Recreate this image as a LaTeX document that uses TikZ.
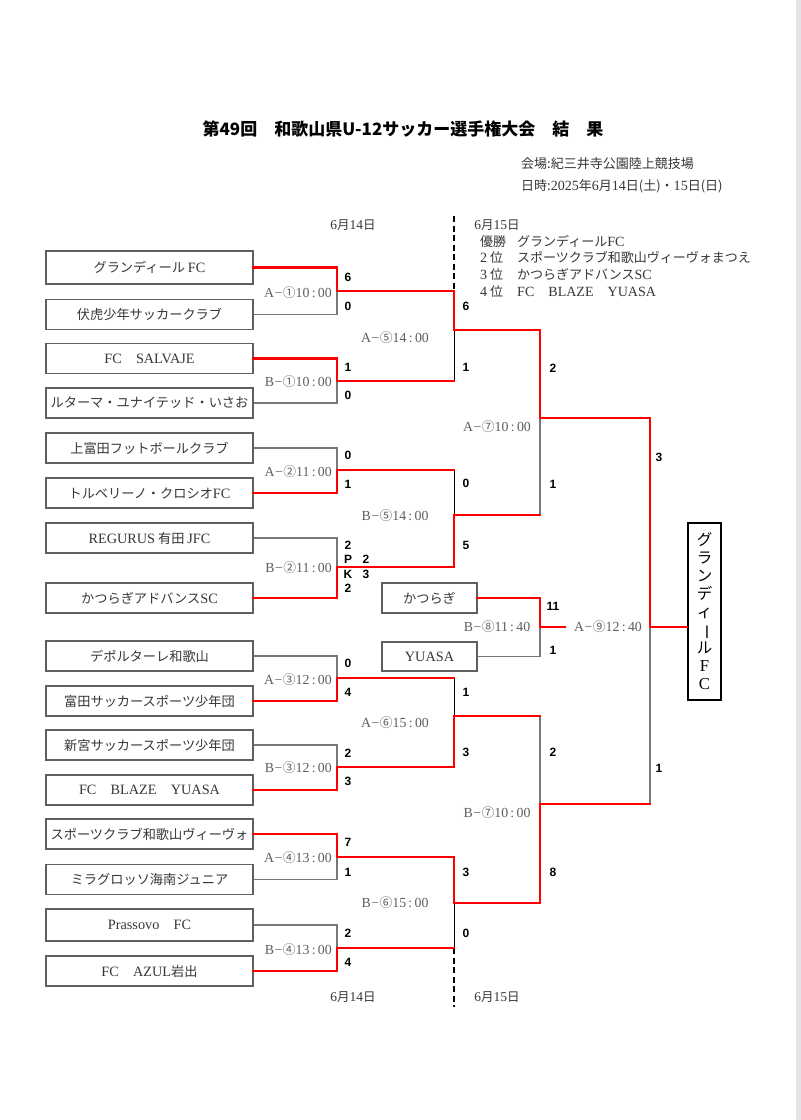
\documentclass[tikz,border=0pt]{standalone}
\usepackage{fontspec}
\usepackage{graphicx}
\setmainfont{Noto Sans CJK JP}
\newfontfamily\lat[Scale=1.08]{Liberation Serif}
\newfontfamily\scr{Liberation Sans}
\definecolor{boxgray}{RGB}{95,95,95}
\definecolor{linegray}{RGB}{120,120,120}
\definecolor{txtgray}{RGB}{55,55,55}
\definecolor{lblgray}{RGB}{95,95,95}
\definecolor{edgegray}{RGB}{226,226,232}
\newcommand\matchlbl[3]{{\lat #1\kern0.5pt −\kern0.5pt}#2{\lat #3}}
\tikzset{
  team/.style={draw=boxgray, line width=1.3, minimum width=207, minimum height=30, inner sep=0, text=txtgray, font=\fontsize{13.2}{15}\selectfont},
  small/.style={team, minimum width=95},
  win/.style={red, line width=2.6, line cap=rect},
  lose/.style={linegray, line width=1.3},
  blk/.style={black, line width=1},
  score/.style={inner sep=0, font=\scr\bfseries\fontsize{12}{14}\selectfont},
  mlbl/.style={inner sep=0, text=lblgray, font=\fontsize{12.8}{14}\selectfont},
  datel/.style={inner sep=0, text=txtgray, font=\fontsize{12.5}{14}\selectfont},
}
\begin{document}
\begin{tikzpicture}[x=1pt,y=-1pt]
\useasboundingbox (0,0) rectangle (801,1120);
\fill[white] (0,0) rectangle (801,1120);
\fill[edgegray] (796,0) rectangle (801,1120);

% title and header
\node[inner sep=0, font=\bfseries\fontsize{17}{20}\selectfont] (title) at (403,129) {第49回　和歌山県U-12サッカー選手権大会　結　果};
\node[inner sep=0, anchor=west, text=txtgray, font=\fontsize{13}{15}\selectfont] (venue) at (521,164) {会場:紀三井寺公園陸上競技場};
\node[inner sep=0, anchor=west, text=txtgray, font=\fontsize{13}{15}\selectfont] (when) at (521,186) {日時:{\lat 2025}年{\lat 6}月{\lat 14}日(土)・{\lat 15}日(日)};

% dates
\node[datel] (d1) at (353,225) {{\lat 6}月{\lat 14}日};
\node[datel] (d2) at (497,225) {{\lat 6}月{\lat 15}日};
\node[datel] (d3) at (353,997) {{\lat 6}月{\lat 14}日};
\node[datel] (d4) at (497,997) {{\lat 6}月{\lat 15}日};

% ranking
\node[inner sep=0, anchor=west, text=txtgray, font=\fontsize{13}{16.7}\selectfont] (rank) at (480,268)
{\renewcommand\arraystretch{1}\begin{tabular}{@{}l@{\hspace{11pt}}l@{}}
優勝 & グランディール{\lat FC}\\
{\lat 2} 位 & スポーツクラブ和歌山ヴィーヴォまつえ\\
{\lat 3} 位 & かつらぎアドバンス{\lat SC}\\
{\lat 4} 位 & {\lat FC\quad BLAZE\quad YUASA}
\end{tabular}};

% teams
\node[team, minimum height=33] (t1) at (149.5,267.5) {グランディール {\lat FC}};
\node[team] (t2) at (149.5,314.5) {伏虎少年サッカークラブ};
\node[team] (t3) at (149.5,358.5) {{\lat FC\quad SALVAJE}};
\node[team] (t4) at (149.5,403) {ルターマ・ユナイテッド・いさお};
\node[team] (t5) at (149.5,448) {上富田フットボールクラブ};
\node[team] (t6) at (149.5,493) {トルベリーノ・クロシオ{\lat FC}};
\node[team] (t7) at (149.5,538) {{\lat REGURUS} 有田 {\lat JFC}};
\node[team] (t8) at (149.5,598) {かつらぎアドバンス{\lat SC}};
\node[team] (t9) at (149.5,656) {デポルターレ和歌山};
\node[team] (t10) at (149.5,701) {富田サッカースポーツ少年団};
\node[team] (t11) at (149.5,745) {新宮サッカースポーツ少年団};
\node[team] (t12) at (149.5,790) {{\lat FC\quad BLAZE\quad YUASA}};
\node[team] (t13) at (149.5,834) {スポーツクラブ和歌山ヴィーヴォ};
\node[team] (t14) at (149.5,879.5) {ミラグロッソ海南ジュニア};
\node[team, minimum height=32] (t15) at (149.5,925) {{\lat Prassovo\quad FC}};
\node[team] (t16) at (149.5,971) {{\lat FC\quad AZUL}岩出};
\node[small] (ka) at (429.5,598) {かつらぎ};
\node[small, minimum height=29] (yu) at (429.5,656.5) {{\lat YUASA}};

% champion box
\node[draw=black, line width=2, minimum width=33, minimum height=177, inner sep=0, font=\fontsize{15.5}{18}\selectfont, align=center] (fin) at (704.5,611.5)
{グ\\ラ\\ン\\デ\\ィ\\\rotatebox[origin=c]{-90}{ー}\\ル\\{\lat F}\\{\lat C}};

% junction coordinates
\coordinate (j1) at (337,291);
\coordinate (j2) at (337,381);
\coordinate (j3) at (337,470);
\coordinate (j4) at (337,567);
\coordinate (j5) at (337,678);
\coordinate (j6) at (337,767);
\coordinate (j7) at (337,857);
\coordinate (j8) at (337,948);
\coordinate (k1) at (454,330);
\coordinate (k2) at (454,515);
\coordinate (k3) at (454,716);
\coordinate (k4) at (454,903);
\coordinate (l1) at (540,418);
\coordinate (l2) at (540,804);
\coordinate (l3) at (540,627);
\coordinate (a9) at (565,627);
\coordinate (f) at (650,627);
\coordinate (fb) at (650,804);
\coordinate (dtop) at (454,216);
\coordinate (dbot) at (454,1007);

% losing lines
\draw[lose] (t2.east) -| (j1);
\draw[lose] (t4.east) -| (j2);
\draw[lose] (t5.east) -| (j3);
\draw[lose] (t7.east) -| (j4);
\draw[lose] (t9.east) -| (j5);
\draw[lose] (t11.east) -| (j6);
\draw[lose] (t14.east) -| (j7);
\draw[lose] (t15.east) -| (j8);
\draw[lose] (yu.east) -| (l3);
\draw[lose] (k2 -| l1) -- (l1);
\draw[lose] (k3 -| l2) -- (l2);
\draw[lose] (f) -- (fb);
\draw[blk] (j2 -| k1) -- (k1);
\draw[blk] (j3 -| k2) -- (k2);
\draw[blk] (j5 -| k3) -- (k3);
\draw[blk] (j8 -| k4) -- (k4);

% date divider
\draw[black, line width=1.8, dash pattern=on 6 off 3.5] (dtop) -- (j1 -| k1);
\draw[black, line width=1.8, dash pattern=on 6 off 3.5] (j8 -| k4) -- (dbot);

% winning lines
\draw[win] (t1.east) -| (j1);
\draw[win] (j1) -| (k1);
\draw[win] (t3.east) -| (j2);
\draw[win] (j2) -- (j2 -| k1);
\draw[win] (k1) -| (l1);
\draw[win] (t6.east) -| (j3);
\draw[win] (j3) -- (j3 -| k2);
\draw[win] (t8.east) -| (j4);
\draw[win] (j4) -| (k2);
\draw[win] (k2) -- (k2 -| l1);
\draw[win] (l1) -| (f);
\draw[win] (f) -- (f -| fin.west);
\draw[win] (ka.east) -| (l3);
\draw[win] (l3) -- (a9);
\draw[win] (t10.east) -| (j5);
\draw[win] (j5) -- (j5 -| k3);
\draw[win] (t12.east) -| (j6);
\draw[win] (j6) -| (k3);
\draw[win] (k3) -- (k3 -| l2);
\draw[win] (t13.east) -| (j7);
\draw[win] (j7) -| (k4);
\draw[win] (t16.east) -| (j8);
\draw[win] (j8) -- (j8 -| k4);
\draw[win] (k4) -| (l2);
\draw[win] (l2) -- (fb);

% match labels
\node[mlbl, anchor=east] (m1) at (332,293) {\matchlbl{A}{①}{10\,:\,00}};
\node[mlbl, anchor=east] (m2) at (332,382) {\matchlbl{B}{①}{10\,:\,00}};
\node[mlbl, anchor=east] (m3) at (332,472) {\matchlbl{A}{②}{11\,:\,00}};
\node[mlbl, anchor=east] (m4) at (332,568) {\matchlbl{B}{②}{11\,:\,00}};
\node[mlbl, anchor=east] (m5) at (332,680) {\matchlbl{A}{③}{12\,:\,00}};
\node[mlbl, anchor=east] (m6) at (332,768) {\matchlbl{B}{③}{12\,:\,00}};
\node[mlbl, anchor=east] (m7) at (332,858) {\matchlbl{A}{④}{13\,:\,00}};
\node[mlbl, anchor=east] (m8) at (332,950) {\matchlbl{B}{④}{13\,:\,00}};
\node[mlbl] (n1) at (395,338) {\matchlbl{A}{⑤}{14\,:\,00}};
\node[mlbl] (n2) at (395,516) {\matchlbl{B}{⑤}{14\,:\,00}};
\node[mlbl] (n3) at (395,723) {\matchlbl{A}{⑥}{15\,:\,00}};
\node[mlbl] (n4) at (395,903) {\matchlbl{B}{⑥}{15\,:\,00}};
\node[mlbl] (p1) at (497,427) {\matchlbl{A}{⑦}{10\,:\,00}};
\node[mlbl] (p2) at (497,627) {\matchlbl{B}{⑧}{11\,:\,40}};
\node[mlbl] (p3) at (497,813) {\matchlbl{B}{⑦}{10\,:\,00}};
\node[mlbl] (q1) at (608,627) {\matchlbl{A}{⑨}{12\,:\,40}};

% scores round 1
\node[score] (s1) at (348,277) {6};
\node[score] (s2) at (348,306) {0};
\node[score] (s3) at (348,367) {1};
\node[score] (s4) at (348,395) {0};
\node[score] (s5) at (348,455) {0};
\node[score] (s6) at (348,484) {1};
\node[score] (s7) at (348,545) {2};
\node[score] (s7p) at (348,559) {P};
\node[score] (s7k) at (348,574) {K};
\node[score] (s8) at (348,588) {2};
\node[score] (pk1) at (366,559) {2};
\node[score] (pk2) at (366,574) {3};
\node[score] (s9) at (348,663) {0};
\node[score] (s10) at (348,692) {4};
\node[score] (s11) at (348,753) {2};
\node[score] (s12) at (348,781) {3};
\node[score] (s13) at (348,842) {7};
\node[score] (s14) at (348,872) {1};
\node[score] (s15) at (348,933) {2};
\node[score] (s16) at (348,962) {4};
% round 2
\node[score] (u1) at (466,306) {6};
\node[score] (u2) at (466,367) {1};
\node[score] (u3) at (466,483) {0};
\node[score] (u4) at (466,545) {5};
\node[score] (u5) at (466,692) {1};
\node[score] (u6) at (466,752) {3};
\node[score] (u7) at (466,872) {3};
\node[score] (u8) at (466,933) {0};
% round 3
\node[score] (v1) at (553,368) {2};
\node[score] (v2) at (553,484) {1};
\node[score] (v3) at (553,606) {11};
\node[score] (v4) at (553,650) {1};
\node[score] (v5) at (553,752) {2};
\node[score] (v6) at (553,872) {8};
% final
\node[score] (w1) at (659,457) {3};
\node[score] (w2) at (659,768) {1};
\end{tikzpicture}
\end{document}
